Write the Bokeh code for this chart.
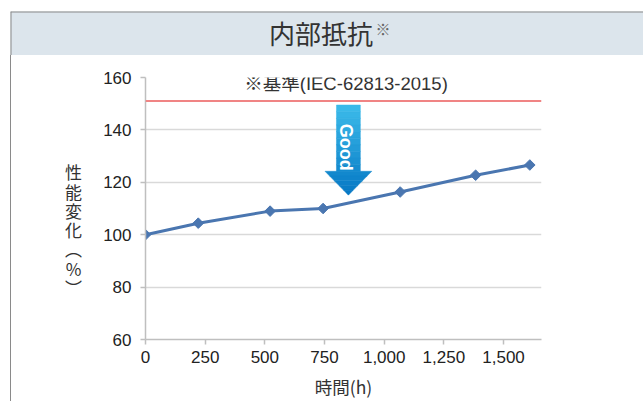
import numpy as np
from bokeh.plotting import figure
from bokeh.layouts import column, row
from bokeh.models import (Range1d, FixedTicker, NumeralTickFormatter, Span, Label,
                          ColumnDataSource)
from bokeh.embed import file_html
from bokeh.resources import INLINE

# ---- data ----
hours = [0, 221, 522, 744, 1067, 1383, 1610]
performance = [100.0, 104.4, 109.0, 110.0, 116.3, 122.7, 126.6]
x_ticks = [0, 250, 500, 750, 1000, 1250, 1500]
y_ticks = [60, 80, 100, 120, 140, 160]
threshold = 151
title_text = "内部抵抗"
title_mark = "※"
threshold_label = "※基準(IEC-62813-2015)"
x_label = "時間(h)"
y_label = "性\n能\n変\n化\n︵\n%\n︶"

# arrow ("Good") geometry in data units
arrow_x = 850
arrow_top = 149.5
arrow_head_base = 124.2
arrow_tip = 115.1
shaft_half = 50
head_half = 98

JP = "Noto Sans CJK JP"
NUM = "Liberation Sans"
MIX = "'Liberation Sans', 'Noto Sans CJK JP'"
BORDER = "#8a8a8a"
TEXT = "#333333"

# ---------------- header band ----------------
head = figure(width=643, height=55, output_backend="svg", toolbar_location=None,
              x_range=Range1d(0, 1), y_range=Range1d(0, 1),
              x_axis_location=None, y_axis_location=None,
              min_border_left=10, min_border_top=11, min_border_right=0,
              min_border_bottom=0)
head.grid.visible = False
head.outline_line_color = None
head.background_fill_color = "#dce5ec"
head.border_fill_color = "white"
head.add_layout(Span(location=0, dimension="height", line_color=BORDER, line_width=2))
head.add_layout(Span(location=1, dimension="width", line_color=BORDER, line_width=2))
head.add_layout(Label(x=320.5, y=32, x_units="canvas", y_units="canvas",
                      text=title_text, text_align="center", text_baseline="middle",
                      text_font=JP, text_font_size="26px", text_color=TEXT))
head.add_layout(Label(x=375, y=28, x_units="canvas", y_units="canvas",
                      text=title_mark, text_align="left", text_baseline="middle",
                      text_font=JP, text_font_size="15px", text_color="#666666"))

# ---------------- left strip (y label) ----------------
side = figure(width=100, height=346, output_backend="svg", toolbar_location=None,
              x_range=Range1d(0, 1), y_range=Range1d(0, 1),
              x_axis_location=None, y_axis_location=None,
              min_border_left=10, min_border_top=0, min_border_right=0,
              min_border_bottom=0)
side.grid.visible = False
side.outline_line_color = None
side.background_fill_color = None
side.border_fill_color = None
side.add_layout(Label(x=73, y=174, x_units="canvas", y_units="canvas",
                      text=y_label, text_align="center", text_baseline="middle",
                      text_font=JP, text_font_size="17px", text_color=TEXT,
                      text_line_height=0.77))

# ---------------- chart ----------------
p = figure(width=543, height=346, output_backend="svg", toolbar_location=None,
           x_range=Range1d(0, 1659), y_range=Range1d(60, 160),
           min_border_left=44, min_border_right=102, min_border_top=22,
           min_border_bottom=62)
p.outline_line_color = None
p.background_fill_color = "white"
p.border_fill_color = None

p.xgrid.grid_line_color = None
p.ygrid.grid_line_color = "#d9d9d9"
p.ygrid.grid_line_width = 1.5
p.ygrid.ticker = FixedTicker(ticks=y_ticks)

p.xaxis.ticker = FixedTicker(ticks=x_ticks)
p.xaxis.formatter = NumeralTickFormatter(format="0,0")
p.yaxis.ticker = FixedTicker(ticks=y_ticks)
for ax in (p.xaxis, p.yaxis):
    ax.axis_line_color = "#bfbfbf"
    ax.axis_line_width = 1.5
    ax.major_tick_line_color = "#bfbfbf"
    ax.major_tick_line_width = 1.5
    ax.major_tick_out = 5
    ax.major_tick_in = 0
    ax.minor_tick_line_color = None
    ax.major_label_text_font = NUM
    ax.major_label_text_font_size = "17px"
    ax.major_label_text_color = "#222222"
p.xaxis.major_label_standoff = 6
p.yaxis.major_label_standoff = 9

p.xaxis.axis_label = x_label
p.xaxis.axis_label_text_font = JP
p.xaxis.axis_label_text_font_size = "17.5px"
p.xaxis.axis_label_text_font_style = "normal"
p.xaxis.axis_label_text_color = TEXT
p.xaxis.axis_label_standoff = 8

# threshold line and its label
p.add_layout(Span(location=threshold, dimension="width", line_color="#f08484",
                  line_width=2))
p.add_layout(Label(x=arrow_x - 10, y=157.6, text=threshold_label, text_align="center",
                   text_baseline="middle", text_font=MIX, text_font_size="18.5px",
                   text_color=TEXT, background_fill_color="white"))

# gradient arrow
c_top = np.array([0x3c, 0xbc, 0xeb])
c_bot = np.array([0x06, 0x78, 0xc4])
def col(t):
    c = (c_top + (c_bot - c_top) * t).astype(int)
    return "#%02x%02x%02x" % tuple(c)

n_shaft = 10
total = arrow_top - arrow_tip
xs, ys, cs = [], [], []
edges = np.linspace(arrow_top, arrow_head_base, n_shaft + 1)
for i in range(n_shaft):
    y0, y1 = edges[i], edges[i + 1]
    xs.append([arrow_x - shaft_half, arrow_x + shaft_half, arrow_x + shaft_half, arrow_x - shaft_half])
    ys.append([y0, y0, y1 - 0.05, y1 - 0.05])
    cs.append(col((arrow_top - (y0 + y1) / 2) / total))
n_head = 5
hedges = np.linspace(arrow_head_base, arrow_tip, n_head + 1)
for i in range(n_head):
    y0, y1 = hedges[i], hedges[i + 1]
    w0 = head_half * (y0 - arrow_tip) / (arrow_head_base - arrow_tip)
    w1 = head_half * (y1 - arrow_tip) / (arrow_head_base - arrow_tip)
    xs.append([arrow_x - w0, arrow_x + w0, arrow_x + w1, arrow_x - w1])
    ys.append([y0, y0, y1, y1])
    cs.append(col((arrow_top - (y0 + y1) / 2) / total))
p.patches(xs, ys, fill_color=cs, line_color=cs, line_width=0.5)

p.add_layout(Label(x=arrow_x - 8, y=133.4, text="Good", angle=-np.pi / 2,
                   text_align="center", text_baseline="middle", text_font=NUM,
                   text_font_style="bold", text_font_size="18px", text_color="white"))

# data series
src = ColumnDataSource(dict(x=hours, y=performance))
p.line("x", "y", source=src, line_color="#4a76b0", line_width=3)
p.scatter("x", "y", source=src, marker="square", angle=np.pi / 4, size=7.5,
          fill_color="#4a76b0", line_color="#4a76b0")

body = row(side, p, spacing=0)
# left edge of the panel frame continues below the header band
body.styles = {"background": "linear-gradient(to right, white 10px, #8a8a8a 10px, "
                             "#8a8a8a 11px, white 11px)"}
layout = column(head, body, spacing=0)
open("out.html", "w").write(file_html(layout, INLINE))
